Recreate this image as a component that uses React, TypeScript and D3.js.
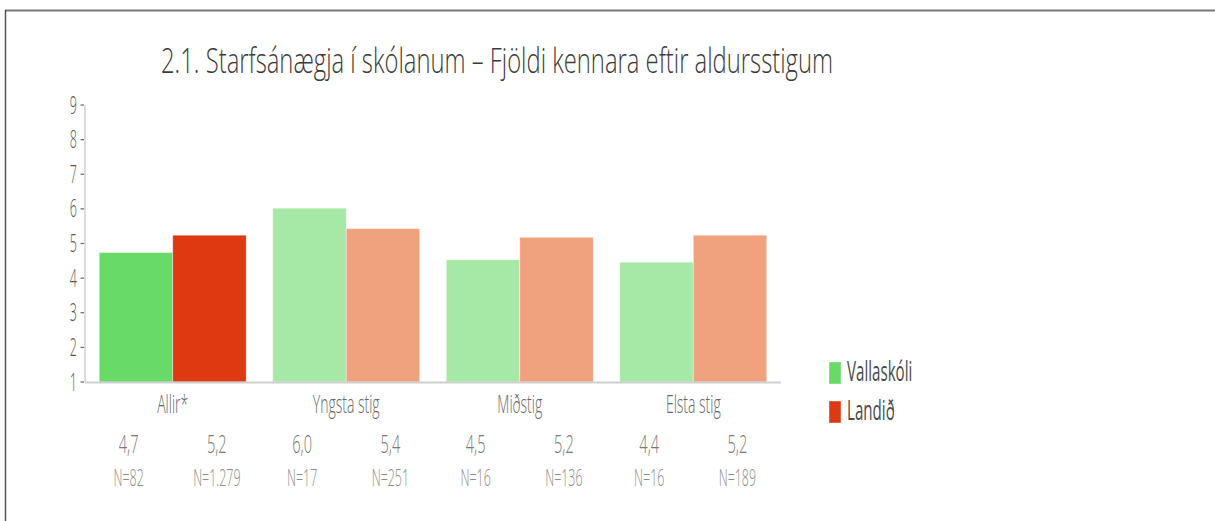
import React from 'react';
import * as d3 from 'd3';

const categories = ['Allir*', 'Yngsta stig', 'Miðstig', 'Elsta stig'];
const seriesNames = ['Vallaskóli', 'Landið'];
const schoolValues = [4.74, 6.02, 4.53, 4.46];
const nationalValues = [5.24, 5.43, 5.18, 5.24];
const schoolLabels = ['4,7', '6,0', '4,5', '4,4'];
const nationalLabels = ['5,2', '5,4', '5,2', '5,2'];
const schoolN = ['N=82', 'N=17', 'N=16', 'N=16'];
const nationalN = ['N=1.279', 'N=251', 'N=136', 'N=189'];
const yTicks = [1, 2, 3, 4, 5, 6, 7, 8, 9];
const title = '2.1. Starfsánægja í skólanum – Fjöldi kennara eftir aldursstigum';

const schoolColors = ['#67da67', '#a6e9a6', '#a6e9a6', '#a6e9a6'];
const nationalColors = ['#de3a12', '#f0a27e', '#f0a27e', '#f0a27e'];

const FONT = '"Open Sans", Lato, sans-serif';

function SText(props: any) {
  const { x, y, anchor = 'middle', size, fill, children, weight = 400, sx = 0.56 } = props;
  return (
    <text
      transform={`translate(${x},${y}) scale(${sx},1)`}
      textAnchor={anchor}
      fontFamily={FONT}
      fontSize={size}
      fontWeight={weight}
      fill={fill}
    >
      {children}
    </text>
  );
}

export default function App() {
  const W = 1215;
  const H = 521;
  const x = d3
    .scaleBand<string>()
    .domain(categories)
    .range([85, 781])
    .paddingInner(0.153)
    .paddingOuter(0.082);
  const y = d3.scaleLinear().domain([1, 9]).range([382, 105]);
  const bw = x.bandwidth();
  const half = bw / 2;

  return (
    <svg
      width={W}
      height={H}
      style={{ position: 'absolute', left: 0, top: 0, background: '#fff' }}
    >
      <rect x={0} y={0} width={W} height={H} fill="#fff" />
      {/* frame */}
      <line x1={5} x2={W} y1={10.5} y2={10.5} stroke="#777" strokeWidth={2} />
      <line x1={5.5} x2={5.5} y1={10} y2={H} stroke="#555" strokeWidth={1.5} />

      {/* title */}
      <text
        x={161}
        y={73}
        fontFamily={FONT}
        fontSize={35}
        fontWeight={300}
        fill="#3a3a3a"
        textLength={672}
        lengthAdjust="spacingAndGlyphs"
      >
        {title}
      </text>

      {/* y axis */}
      <line x1={85} x2={85} y1={y(9)} y2={y(1)} stroke="#d0d0d0" strokeWidth={1.5} />
      {yTicks.map((t) => (
        <g key={t}>
          <line x1={80.5} x2={84} y1={y(t)} y2={y(t)} stroke="#666" strokeWidth={1.2} />
          <SText x={77} y={y(t) + 8.5} anchor="end" size={25} fill="#555" weight={300} sx={0.5}>
            {t}
          </SText>
        </g>
      ))}

      {/* bars */}
      {categories.map((c, i) => {
        const x0 = x(c) as number;
        return (
          <g key={c}>
            <rect
              x={x0}
              y={y(schoolValues[i])}
              width={half}
              height={y(1) - y(schoolValues[i])}
              fill={schoolColors[i]}
              stroke="#ffffff"
              strokeOpacity={0.5}
              strokeWidth={0.8}
            />
            <rect
              x={x0 + half}
              y={y(nationalValues[i])}
              width={half}
              height={y(1) - y(nationalValues[i])}
              fill={nationalColors[i]}
              stroke="#ffffff"
              strokeOpacity={0.5}
              strokeWidth={0.8}
            />
          </g>
        );
      })}

      {/* baseline */}
      <line x1={85} x2={781} y1={y(1) + 0.5} y2={y(1) + 0.5} stroke="#cfcfcf" strokeWidth={2} />

      {/* category labels and table */}
      {categories.map((c, i) => {
        const cx = (x(c) as number) + bw / 2;
        const off = bw * 0.3;
        return (
          <g key={c + 'lbl'}>
            <SText x={cx} y={413} size={25} fill="#666" weight={300}>
              {c}
            </SText>
            <SText x={cx - off} y={453} size={26} fill="#777" weight={300}>
              {schoolLabels[i]}
            </SText>
            <SText x={cx + off} y={453} size={26} fill="#777" weight={300}>
              {nationalLabels[i]}
            </SText>
            <SText x={cx - off} y={486} size={23} fill="#8c8c8c" weight={300} sx={0.54}>
              {schoolN[i]}
            </SText>
            <SText x={cx + off} y={486} size={23} fill="#8c8c8c" weight={300} sx={0.54}>
              {nationalN[i]}
            </SText>
          </g>
        );
      })}

      {/* legend */}
      {seriesNames.map((s, i) => (
        <g key={s}>
          <rect
            x={829}
            y={362 + i * 39}
            width={12}
            height={22}
            fill={i === 0 ? schoolColors[0] : nationalColors[0]}
            stroke="#fff"
            strokeOpacity={0.5}
            strokeWidth={0.8}
          />
          <SText x={847} y={381 + i * 39} anchor="start" size={28} fill="#4a4a4a" weight={400} sx={0.54}>
            {s}
          </SText>
        </g>
      ))}
    </svg>
  );
}
